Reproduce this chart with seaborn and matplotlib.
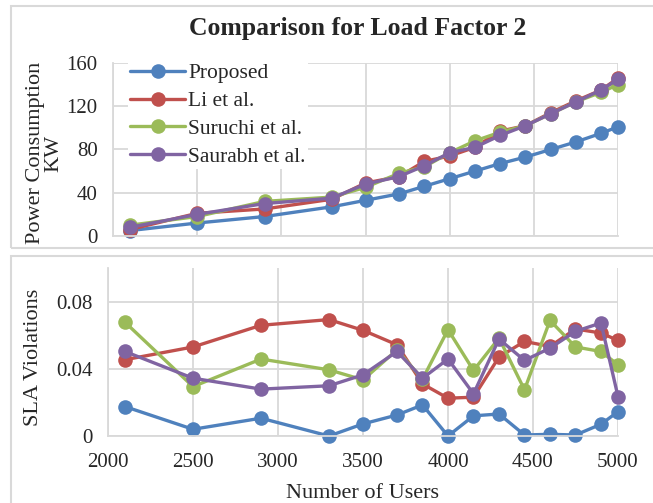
import matplotlib
matplotlib.use('Agg')
import matplotlib.pyplot as plt
import seaborn as sns
from matplotlib.patches import Rectangle
from matplotlib.ticker import FuncFormatter

# Dados
users = [2100, 2500, 2900, 3300, 3500, 3700, 3850, 4000, 4150, 4300, 4450, 4600, 4750, 4900, 5000]
series_names = ['Proposed', 'Li et al.', 'Suruchi et al.', 'Saurabh et al.']
colors = ['#4F81BD', '#C0504D', '#9BBB59', '#8064A2']

power_proposed = [5, 12, 18, 27, 33, 39, 46, 53, 60, 67, 73, 80, 87, 95, 101]
power_li = [6, 21, 25, 34, 49, 55, 69, 74, 82, 97, 102, 114, 125, 135, 146]
power_suruchi = [10, 18, 32, 36, 45, 58, 64, 77, 88, 96, 102, 113, 124, 133, 140]
power_saurabh = [8, 20, 30, 35, 48, 55, 65, 77, 82, 93, 102, 113, 124, 135, 145]

sla_proposed = [0.0175, 0.004, 0.0106, 0.0, 0.0072, 0.0125, 0.0185, 0.0, 0.012, 0.0131, 0.0006, 0.001, 0.0006, 0.007, 0.0145]
sla_li = [0.0454, 0.053, 0.0659, 0.0693, 0.0629, 0.0543, 0.031, 0.0225, 0.0231, 0.047, 0.0563, 0.0533, 0.0637, 0.0613, 0.0569]
sla_suruchi = [0.0677, 0.0294, 0.0458, 0.0394, 0.0334, 0.0513, 0.0338, 0.0633, 0.039, 0.0583, 0.0275, 0.0688, 0.053, 0.0503, 0.0424]
sla_saurabh = [0.0503, 0.0344, 0.0279, 0.0299, 0.0364, 0.0503, 0.0344, 0.0458, 0.0251, 0.0577, 0.045, 0.0523, 0.0623, 0.0673, 0.0235]

power_ticks = [0, 40, 80, 120, 160]
sla_ticks = [0, 0.04, 0.08]
user_ticks = [2000, 2500, 3000, 3500, 4000, 4500, 5000]

sns.set_style('white')
plt.rcParams['font.family'] = ['Liberation Serif', 'DejaVu Serif']

W, H = 653, 503
fig = plt.figure(figsize=(W / 100, H / 100), dpi=100)

def px_rect(x0, y0, x1, y1):
    # converte pixels (origem no topo) para fração da figura
    return [x0 / W, 1 - y1 / H, (x1 - x0) / W, (y1 - y0) / H]

# molduras dos dois gráficos
grid_color = '#d9d9d9'
for (x0, y0, x1, y1) in [(11, 6, 700, 248), (11, 256, 700, 560)]:
    fig.patches.append(Rectangle((x0 / W, 1 - y1 / H), (x1 - x0) / W, (y1 - y0) / H,
                                 transform=fig.transFigure, fill=False,
                                 edgecolor=grid_color, linewidth=1.5, clip_on=False))

ax1 = fig.add_axes(px_rect(113, 63, 618, 236))
ax2 = fig.add_axes(px_rect(108, 268, 618, 436))

def draw(ax, series, with_label):
    for name, vals, c in zip(series_names, series, colors):
        sns.lineplot(x=users, y=vals, ax=ax, color=c, marker='o', markersize=10.5,
                     markeredgewidth=0, linewidth=2.4, clip_on=False,
                     label=name if with_label else None, legend=with_label)

draw(ax1, [power_proposed, power_li, power_suruchi, power_saurabh], True)
draw(ax2, [sla_proposed, sla_li, sla_suruchi, sla_saurabh], False)

for ax in (ax1, ax2):
    ax.set_xlim(2000, 5000)
    ax.set_xticks(user_ticks)
    ax.grid(True, color=grid_color, linewidth=1.3)
    ax.set_axisbelow(True)
    ax.tick_params(length=0, labelsize=15, pad=11)
    for side in ('top', 'right'):
        ax.spines[side].set_visible(False)
    for side in ('left', 'bottom'):
        ax.spines[side].set_color(grid_color)
        ax.spines[side].set_linewidth(1.3)
    ax.set_xlabel('')
    ax.set_ylabel('')

ax1.set_ylim(0, 160)
ax1.set_yticks(power_ticks)
ax1.tick_params(axis='x', labelbottom=False)

ax2.set_ylim(0, 0.1)
ax2.set_yticks(sla_ticks)
ax2.yaxis.set_major_formatter(FuncFormatter(lambda v, p: '0' if v == 0 else f'{v:.2f}'))
ax2.tick_params(axis='x', pad=12)

leg = ax1.legend(loc='upper left', bbox_to_anchor=(128 / W, 1 - 61 / H), bbox_transform=fig.transFigure,
                 frameon=True, fancybox=False, framealpha=1, edgecolor='white',
                 fontsize=15.5, handlelength=2.55, handletextpad=0.15, labelspacing=0.36,
                 borderpad=0.1, borderaxespad=0)
leg.get_frame().set_linewidth(0)

fig.text(358 / W, 1 - 28 / H, 'Comparison for Load Factor 2', ha='center', va='center',
         fontsize=18.5, fontweight='bold')
fig.text(45 / W, 1 - 153 / H, 'Power Consumption\nKW', ha='center', va='center',
         rotation=90, fontsize=16, linespacing=0.95, multialignment='center')
fig.text(33 / W, 1 - 357 / H, 'SLA Violations', ha='center', va='center',
         rotation=90, fontsize=16)
fig.text(362 / W, 1 - 493 / H, 'Number of Users', ha='center', va='center', fontsize=16)

fig.savefig('out.png', dpi=100)
